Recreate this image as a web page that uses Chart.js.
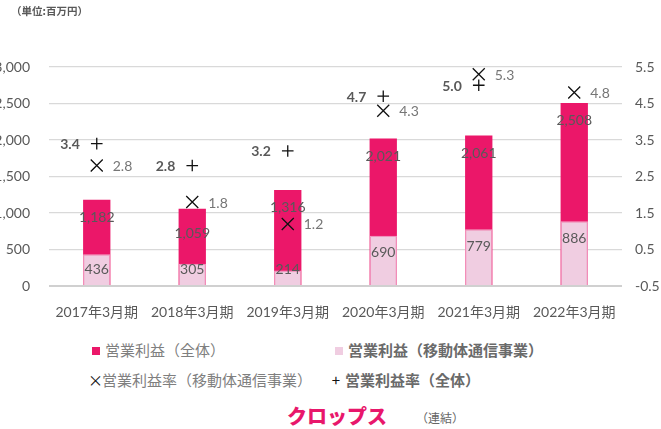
<!DOCTYPE html>
<html lang="ja">
<head>
<meta charset="utf-8">
<script src="https://cdn.jsdelivr.net/npm/chart.js@4/dist/chart.umd.min.js"></script>
<style>
  body { margin: 0; background: #fff; font-family: Lato, "Noto Sans CJK JP", sans-serif; }
  #wrap { position: relative; width: 661px; height: 429px; overflow: hidden; }
  #chart { position: absolute; left: 0; top: 0; }
  .unit { position: absolute; left: 11px; top: 3px; font-size: 10.5px; font-weight: 700; color: #595959; font-family: "Noto Sans CJK JP", sans-serif; }
  .leg { position: absolute; font-size: 15px; line-height: 18px; color: #7f7f7f; font-family: "Noto Sans CJK JP", sans-serif; white-space: nowrap; }
  .leg.bold { font-weight: 700; color: #6a6a6a; }
  .sw { display: inline-block; width: 8px; height: 8px; margin-right: 5px; vertical-align: 1px; }
  .mk { display: inline-block; width: 10px; margin-right: 4px; color: #111; font-weight: 400; text-align: center; }
  .company { position: absolute; left: 287px; top: 401px; font-size: 20px; font-weight: 900; color: #e8176b; font-family: "Noto Sans CJK JP", sans-serif; }
  .consol { position: absolute; left: 416px; top: 409px; font-size: 12px; color: #666; font-family: "Noto Sans CJK JP", sans-serif; }
</style>
</head>
<body>
<div id="wrap">
  <canvas id="chart" width="661" height="322"></canvas>
  <div class="unit">（単位:百万円）</div>
  <div class="leg" style="left:92px;top:341px;"><span class="sw" style="background:#eb1769"></span>営業利益（全体）</div>
  <div class="leg bold" style="left:335px;top:341px;"><span class="sw" style="background:#f0cde1"></span>営業利益（移動体通信事業）</div>
  <div class="leg" style="left:88px;top:371px;"><span class="mk">×</span>営業利益率（移動体通信事業）</div>
  <div class="leg bold" style="left:331px;top:371px;"><span class="mk">+</span>営業利益率（全体）</div>
  <div class="company">クロップス</div>
  <div class="consol">（連結）</div>
</div>
<script>
// Fiscal years
const categories = ['2017年3月期', '2018年3月期', '2019年3月期', '2020年3月期', '2021年3月期', '2022年3月期'];

// Operating profit (million yen)
const profitTotal = [1182, 1059, 1316, 2021, 2061, 2508];
const profitMobile = [436, 305, 214, 690, 779, 886];

// Operating margin (%)
const marginMobile = [2.8, 1.8, 1.2, 4.3, 5.3, 4.8];
const marginTotal = [3.4, 2.8, 3.2, 4.7, 5.0, null];

// Axis ticks
const leftTicks = [0, 500, 1000, 1500, 2000, 2500, 3000];
const rightTicks = [-0.5, 0.5, 1.5, 2.5, 3.5, 4.5, 5.5];

const GRAY = '#595959';
const NUM_FONT = 'Lato, "Noto Sans CJK JP", sans-serif';

// draws the value labels on bars and markers
const valueLabels = {
  id: 'valueLabels',
  afterDatasetsDraw(chart) {
    const ctx = chart.ctx;
    const bottom = chart.chartArea.bottom;
    ctx.save();
    ctx.textBaseline = 'middle';
    ctx.textAlign = 'center';
    ctx.font = '14px ' + NUM_FONT;
    ctx.fillStyle = GRAY;

    chart.getDatasetMeta(0).data.forEach((bar, i) => {
      // the 2018 label sits a bit lower, clear of the × marker
      const dy = i === 1 ? 25 : 18;
      ctx.fillText(profitTotal[i].toLocaleString('en-US'), bar.x, bar.y + dy);
    });
    chart.getDatasetMeta(1).data.forEach((bar, i) => {
      ctx.fillText(profitMobile[i].toLocaleString('en-US'), bar.x, Math.min(bar.y + 17, bottom - 17));
    });

    ctx.textAlign = 'left';
    ctx.fillStyle = '#767676';
    chart.getDatasetMeta(2).data.forEach((pt, i) => {
      if (marginMobile[i] == null) return;
      ctx.fillText(marginMobile[i].toFixed(1), pt.x + 16, pt.y + 1);
    });

    ctx.textAlign = 'right';
    ctx.font = 'bold 14px ' + NUM_FONT;
    ctx.fillStyle = GRAY;
    chart.getDatasetMeta(3).data.forEach((pt, i) => {
      if (marginTotal[i] == null) return;
      ctx.fillText(marginTotal[i].toFixed(1), pt.x - 17, pt.y + 1);
    });
    ctx.restore();
  }
};

new Chart(document.getElementById('chart'), {
  data: {
    labels: categories,
    datasets: [
      {
        type: 'bar',
        label: '営業利益（全体）',
        data: profitTotal,
        backgroundColor: '#eb1769',
        yAxisID: 'y',
        grouped: false,
        order: 3,
        barPercentage: 0.286,
        categoryPercentage: 1
      },
      {
        type: 'bar',
        label: '営業利益（移動体通信事業）',
        data: profitMobile,
        backgroundColor: '#f0cde1',
        borderColor: '#f4a3c7',
        borderWidth: 1,
        yAxisID: 'y',
        grouped: false,
        order: 2,
        barPercentage: 0.286,
        categoryPercentage: 1
      },
      {
        type: 'line',
        label: '営業利益率（移動体通信事業）',
        data: marginMobile,
        yAxisID: 'y2',
        showLine: false,
        pointStyle: 'crossRot',
        pointRadius: 8.5,
        pointBorderColor: '#111',
        pointBorderWidth: 1.3,
        order: 1
      },
      {
        type: 'line',
        label: '営業利益率（全体）',
        data: marginTotal,
        yAxisID: 'y2',
        showLine: false,
        pointStyle: 'cross',
        pointRadius: 5.8,
        pointBorderColor: '#111',
        pointBorderWidth: 1.3,
        order: 0
      }
    ]
  },
  options: {
    responsive: false,
    animation: false,
    layout: { padding: { top: 67, left: 0, right: 0, bottom: 0 } },
    plugins: {
      legend: { display: false },
      tooltip: { enabled: false }
    },
    scales: {
      x: {
        grid: { display: false },
        border: { display: false },
        ticks: { color: GRAY, font: { size: 14, family: NUM_FONT }, padding: 10, maxRotation: 0 },
        afterFit: (s) => { s.height = 36; }
      },
      y: {
        position: 'left',
        min: 0,
        max: 3000,
        border: { display: false },
        grid: {
          drawTicks: false,
          color: (c) => c.tick && c.tick.value === 0 ? '#d0d0d0' : '#d9d9d9',
          lineWidth: (c) => c.tick && c.tick.value === 0 ? 2 : 1.3
        },
        ticks: {
          color: GRAY,
          font: { size: 14, family: NUM_FONT },
          padding: 19,
          callback: (v) => Number(v).toLocaleString('en-US')
        },
        afterBuildTicks: (s) => { s.ticks = leftTicks.map((v) => ({ value: v })); },
        afterFit: (s) => { s.width = 49; }
      },
      y2: {
        position: 'right',
        min: -0.5,
        max: 5.5,
        border: { display: false },
        grid: { display: false, drawTicks: false },
        ticks: {
          color: GRAY,
          font: { size: 14, family: NUM_FONT },
          padding: 13,
          callback: (v) => Number(v).toFixed(1)
        },
        afterBuildTicks: (s) => { s.ticks = rightTicks.map((v) => ({ value: v })); },
        afterFit: (s) => { s.width = 39; }
      }
    }
  },
  plugins: [valueLabels]
});
</script>
</body>
</html>
